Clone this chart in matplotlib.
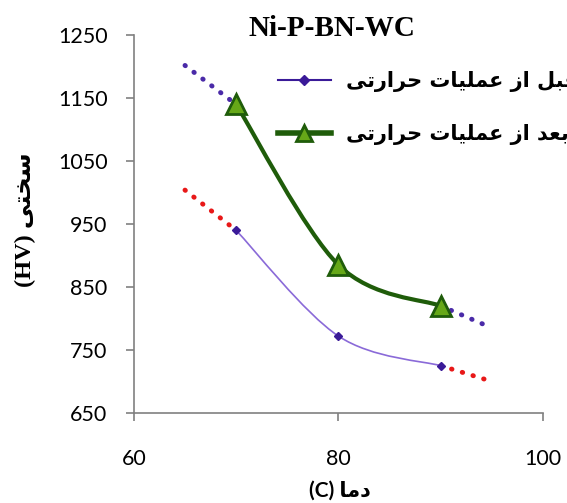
import numpy as np
import matplotlib
matplotlib.use("Agg")
import matplotlib.pyplot as plt
from matplotlib.path import Path
from matplotlib.patches import PathPatch
from matplotlib.lines import Line2D

# داده ها
dama = [70, 80, 90]
ghabl = [940, 772, 725]      # قبل از عملیات حرارتی
baad = [1140, 885, 820]      # بعد از عملیات حرارتی

# خطوط نقطه چین (ادامه روند)
ext_chap_x = [65, 70]
ext_rast_x = [90, 95]
ghabl_chap = [1004, 940]
ghabl_rast = [725, 700]
baad_chap = [1202, 1140]
baad_rast = [820, 785]

y_ticks = [650, 750, 850, 950, 1050, 1150, 1250]
x_ticks = [60, 80, 100]

# شکل دادن حروف فارسی (فرم های نمایشی) چون matplotlib خودش این کار را نمی کند
FORMS = {
    'ا': ('\uFE8D', '\uFE8E', None, None),
    'ب': ('\uFE8F', '\uFE90', '\uFE91', '\uFE92'),
    'ت': ('\uFE95', '\uFE96', '\uFE97', '\uFE98'),
    'ح': ('\uFEA1', '\uFEA2', '\uFEA3', '\uFEA4'),
    'خ': ('\uFEA5', '\uFEA6', '\uFEA7', '\uFEA8'),
    'د': ('\uFEA9', '\uFEAA', None, None),
    'ر': ('\uFEAD', '\uFEAE', None, None),
    'ز': ('\uFEAF', '\uFEB0', None, None),
    'س': ('\uFEB1', '\uFEB2', '\uFEB3', '\uFEB4'),
    'ع': ('\uFEC9', '\uFECA', '\uFECB', '\uFECC'),
    'ق': ('\uFED5', '\uFED6', '\uFED7', '\uFED8'),
    'ل': ('\uFEDD', '\uFEDE', '\uFEDF', '\uFEE0'),
    'م': ('\uFEE1', '\uFEE2', '\uFEE3', '\uFEE4'),
    'ی': ('\uFEEF', '\uFEF0', '\uFEF3', '\uFEF4'),
}


def farsi(s):
    out = []
    for i, c in enumerate(s):
        if c not in FORMS:
            out.append(c)
            continue
        prev = s[i - 1] if i > 0 else ''
        nxt = s[i + 1] if i + 1 < len(s) else ''
        join_prev = prev in FORMS and FORMS[prev][2] is not None
        join_next = nxt in FORMS and FORMS[c][2] is not None
        iso, fin, ini, med = FORMS[c]
        if join_prev and join_next:
            out.append(med)
        elif join_prev:
            out.append(fin)
        elif join_next:
            out.append(ini)
        else:
            out.append(iso)
    return ''.join(reversed(out))


def smooth_path(xs, ys):
    # منحنی نرم مثل اکسل (بزیه)
    p = np.column_stack([xs, ys]).astype(float)
    verts = [p[0]]
    codes = [Path.MOVETO]
    n = len(p)
    for i in range(n - 1):
        p_prev = p[i - 1] if i > 0 else p[i]
        p_next2 = p[i + 2] if i + 2 < n else p[i + 1]
        c1 = p[i] + (p[i + 1] - p_prev) / 6
        c2 = p[i + 1] - (p_next2 - p[i]) / 6
        verts += [c1, c2, p[i + 1]]
        codes += [Path.CURVE4] * 3
    return Path(verts, codes)


fig = plt.figure(figsize=(5.67, 5.03), dpi=100)
ax = fig.add_axes([0.236, 0.179, 0.722, 0.751])

purple = '#4a2aa8'
purple_line = '#8a6ad8'
red = '#e81818'
green = '#1f5c0a'
green_fill = '#66a818'
gris = '#808080'

dot = dict(linestyle=(0, (0.1, 2.2)), lw=3.5, dash_capstyle='round')
ax.plot(ext_chap_x, baad_chap, color=purple, **dot)
ax.plot(ext_rast_x, baad_rast, color=purple, **dot)
ax.plot(ext_chap_x, ghabl_chap, color=red, **dot)
ax.plot(ext_rast_x, ghabl_rast, color=red, **dot)

ax.add_patch(PathPatch(smooth_path(dama, ghabl), fill=False, edgecolor=purple_line, lw=1.2))
ax.plot(dama, ghabl, 'D', color='#3a1a98', ms=4, ls='none')

ax.add_patch(PathPatch(smooth_path(dama, baad), fill=False, edgecolor=green, lw=3))
ax.plot(dama, baad, '^', mfc=green_fill, mec=green, mew=2, ms=15, ls='none')

ax.set_xlim(60, 100)
ax.set_ylim(650, 1250)
ax.set_xticks(x_ticks)
ax.set_yticks(y_ticks)
ax.spines['top'].set_visible(False)
ax.spines['right'].set_visible(False)
for k in ['left', 'bottom']:
    ax.spines[k].set_color(gris)
    ax.spines[k].set_linewidth(1.2)
ax.tick_params(length=6, width=1.2, color=gris, direction='out', labelsize=15.5)
ax.tick_params(axis='y', pad=13)
ax.tick_params(axis='x', pad=20)
for lab in ax.get_xticklabels() + ax.get_yticklabels():
    lab.set_family('Lato')

fig.text(0.586, 0.944, 'Ni-P-BN-WC', ha='center', va='center',
         family='Liberation Serif', weight='bold', fontsize=21)

fig.text(0.045, 0.563, '(HV) ' + farsi('سختی'), rotation=90, ha='center', va='center',
         family=['Liberation Serif', 'DejaVu Sans'], weight='bold', fontsize=17.5)

fig.text(0.6, 0.025, '(C) ' + farsi('دما'), ha='center', va='center',
         family=['Lato', 'DejaVu Sans'], weight='bold', fontsize=15)

handles = [
    Line2D([], [], color='#3a1a98', lw=1.5, marker='D', ms=5),
    Line2D([], [], color=green, lw=4, marker='^', mfc=green_fill, mec=green, mew=2, ms=12),
]
labels = [farsi('قبل از عملیات حرارتی'), farsi('بعد از عملیات حرارتی')]
ax.legend(handles, labels, loc='upper left', bbox_to_anchor=(0.352, 0.905),
          frameon=False, handlelength=2.55, handletextpad=0.7, labelspacing=1.55,
          borderpad=0, borderaxespad=0,
          prop=dict(family='DejaVu Sans', weight='bold', size=15))

fig.savefig('out.png', dpi=100)
